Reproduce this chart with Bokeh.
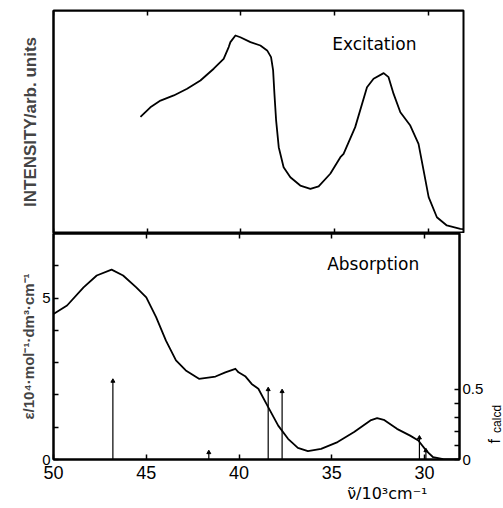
from bokeh.plotting import figure
from bokeh.models import Range1d, LinearAxis, FixedTicker, Label, ColumnDataSource, Title
from bokeh.layouts import column, row
from bokeh.embed import file_html
from bokeh.resources import INLINE

# ---------------- data ----------------
x_ticks = [50, 45, 40, 35, 30]

exc_x = [45.36, 44.83, 44.29, 43.58, 42.87, 42.16, 41.45, 40.92, 40.65, 40.56, 40.29,
         40.03, 39.49, 38.96, 38.6, 38.39, 38.28, 38.21, 38.12, 37.98, 37.72, 37.36,
         36.83, 36.29, 35.85, 35.23, 34.69, 34.52, 33.9, 33.27, 32.92, 32.38, 32.12,
         31.85, 31.49, 30.96, 30.52, 30.25, 29.98, 29.54, 29.01, 28.29, 28.1]
exc_y = [52.3, 56.6, 59.6, 61.9, 64.9, 68.6, 73.9, 78.3, 83.6, 85.8, 88.8,
         88.0, 85.8, 84.3, 82.1, 79.1, 73.1, 62.6, 50.7, 38.7, 29.7, 25.2,
         21.5, 20.0, 21.1, 26.8, 34.2, 35.7, 47.7, 65.6, 69.4, 71.9, 70.1,
         62.6, 54.4, 48.4, 40.2, 28.3, 16.3, 7.3, 3.6, 2.1, 2.0]

abs_x = [50.0, 49.27, 48.38, 47.67, 46.87, 46.25, 45.54, 45.0, 44.47, 43.94, 43.4,
         42.87, 42.16, 41.27, 40.74, 40.2, 40.03, 39.67, 39.32, 38.96, 38.43, 37.89,
         37.36, 36.83, 36.29, 35.58, 34.69, 33.8, 32.92, 32.56, 32.2, 31.49, 30.78,
         30.34, 29.89, 29.54, 29.0, 28.12]
abs_y = [4.51, 4.77, 5.33, 5.70, 5.88, 5.70, 5.33, 5.02, 4.41, 3.68, 3.07,
         2.76, 2.50, 2.57, 2.70, 2.81, 2.70, 2.58, 2.34, 2.19, 1.62, 1.05,
         0.64, 0.36, 0.26, 0.33, 0.54, 0.85, 1.21, 1.28, 1.23, 0.95, 0.74,
         0.59, 0.26, 0.07, 0.01, 0.0]

stick_x = [46.8, 41.63, 38.43, 37.68, 30.28, 29.93]
stick_f = [0.56, 0.05, 0.50, 0.486, 0.155, 0.064]

eps_ticks = [0, 5]
eps_minor = [1, 2, 3, 4, 6]
f_ticks = [0, 0.5]
f_minor = [0.1, 0.2, 0.3, 0.4]

FONT = "Liberation Sans"
FONT2 = "DejaVu Sans"
X0, X1 = 50, 28.12
WMAIN = 486
WSIDE = 17


def base_axis(ax, size="16px", standoff=3):
    ax.axis_line_color = "black"
    ax.axis_line_width = 2
    ax.major_tick_in = 5
    ax.major_tick_out = 0
    ax.minor_tick_in = 4
    ax.minor_tick_out = 0
    ax.major_tick_line_width = 1.5
    ax.minor_tick_line_width = 1.5
    ax.major_label_text_font = FONT
    ax.major_label_text_color = "black"
    ax.major_label_text_font_size = size
    ax.major_label_standoff = standoff


def edge_axis(fixed):
    # ticks only (drawn as minor ticks, so no labels), placed on the frame edge
    ax = LinearAxis(ticker=FixedTicker(ticks=[], minor_ticks=x_ticks),
                    fixed_location=fixed)
    base_axis(ax)
    ax.minor_tick_in = 5
    return ax


# ---------------- top panel (excitation) ----------------
top = figure(width=WMAIN, height=233, x_range=Range1d(X0, X1), y_range=Range1d(0, 100),
             x_axis_type=None, y_axis_type=None, output_backend="svg",
             toolbar_location=None, min_border_left=53, min_border_right=WMAIN - 463,
             min_border_top=10, min_border_bottom=0)
top.grid.visible = False
top.outline_line_color = "black"
top.outline_line_width = 2

top.add_layout(edge_axis(100), "above")
top.add_layout(edge_axis(0), "below")

ly = LinearAxis(ticker=FixedTicker(ticks=[], minor_ticks=[]),
                axis_label="INTENSITY/arb. units")
base_axis(ly)
ly.axis_label_text_font = FONT
ly.axis_label_text_font_style = "bold"
ly.axis_label_text_font_size = "17px"
ly.axis_label_standoff = 14
top.add_layout(ly, "left")

top.line(exc_x, exc_y, line_color="black", line_width=1.8, line_join="round")
top.add_layout(Label(x=32.88, y=85.2, text="Excitation", text_font=FONT2,
                     text_font_size="17px", text_align="center",
                     text_baseline="middle", text_color="black"))

# ---------------- bottom panel (absorption) ----------------
HB = 273
BB = 47
bot = figure(width=WMAIN, height=HB, x_range=Range1d(X0, X1), y_range=Range1d(0, 7),
             x_axis_type=None, y_axis_type=None, output_backend="svg",
             toolbar_location=None, min_border_left=53, min_border_right=WMAIN - 463,
             min_border_top=0, min_border_bottom=BB)
bot.grid.visible = False
bot.outline_line_color = "black"
bot.outline_line_width = 2
bot.extra_y_ranges = {"f": Range1d(0, 1.614)}

bot.add_layout(edge_axis(7), "above")

ax_bot = LinearAxis(ticker=FixedTicker(ticks=x_ticks, minor_ticks=[]))
base_axis(ax_bot, size="18px", standoff=6)
bot.add_layout(ax_bot, "below")

ax_eps = LinearAxis(ticker=FixedTicker(ticks=eps_ticks, minor_ticks=eps_minor),
                    axis_label="ε/10⁴·mol⁻¹·dm³·cm⁻¹")
base_axis(ax_eps, size="15px")
ax_eps.minor_tick_in = 5
ax_eps.axis_label_text_font = FONT
ax_eps.axis_label_text_font_style = "bold"
ax_eps.axis_label_text_font_size = "15px"
ax_eps.axis_label_standoff = 2
bot.add_layout(ax_eps, "left")

ax_f = LinearAxis(y_range_name="f",
                  ticker=FixedTicker(ticks=f_ticks, minor_ticks=f_minor))
base_axis(ax_f, size="15px", standoff=3)
ax_f.minor_tick_in = 5
bot.add_layout(ax_f, "right")

bot.add_layout(Title(text="ν̃/10³cm⁻¹", align="right", offset=32,
                     text_font=FONT2, text_font_size="16px",
                     text_font_style="normal", text_color="black",
                     standoff=0), "below")

bot.line(abs_x, abs_y, line_color="black", line_width=1.8, line_join="round")

src = ColumnDataSource(data=dict(x=stick_x, f=stick_f, z=[0] * len(stick_x)))
bot.segment(x0="x", y0="z", x1="x", y1="f", source=src, y_range_name="f",
            line_color="black", line_width=1.2)
bot.scatter(x="x", y="f", source=src, y_range_name="f", size=4,
            marker="triangle", color="black")

bot.add_layout(Label(x=32.77, y=6.07, text="Absorption", text_font=FONT2,
                     text_font_size="17px", text_align="center",
                     text_baseline="middle", text_color="black"))

# ---------------- narrow strip holding the f_calcd label ----------------
side = figure(width=WSIDE, height=HB, x_range=Range1d(0, 1), y_range=Range1d(0, 1.614),
              x_axis_type=None, y_axis_type=None, output_backend="svg",
              toolbar_location=None, min_border_left=0, min_border_right=0,
              min_border_top=0, min_border_bottom=BB)
side.grid.visible = False
side.outline_line_color = None
side.add_layout(Label(x=0.47, y=0.114, text="f", text_font=FONT,
                      text_font_size="16px", text_align="left", angle=1.5708,
                      text_baseline="middle", text_color="black"))
side.add_layout(Label(x=0.64, y=0.19, text="calcd", text_font=FONT,
                      text_font_size="12px", text_align="left", angle=1.5708,
                      text_baseline="middle", text_color="black"))

layout = column(top, row(bot, side, spacing=0), spacing=0)
open("out.html", "w").write(file_html(layout, INLINE))
